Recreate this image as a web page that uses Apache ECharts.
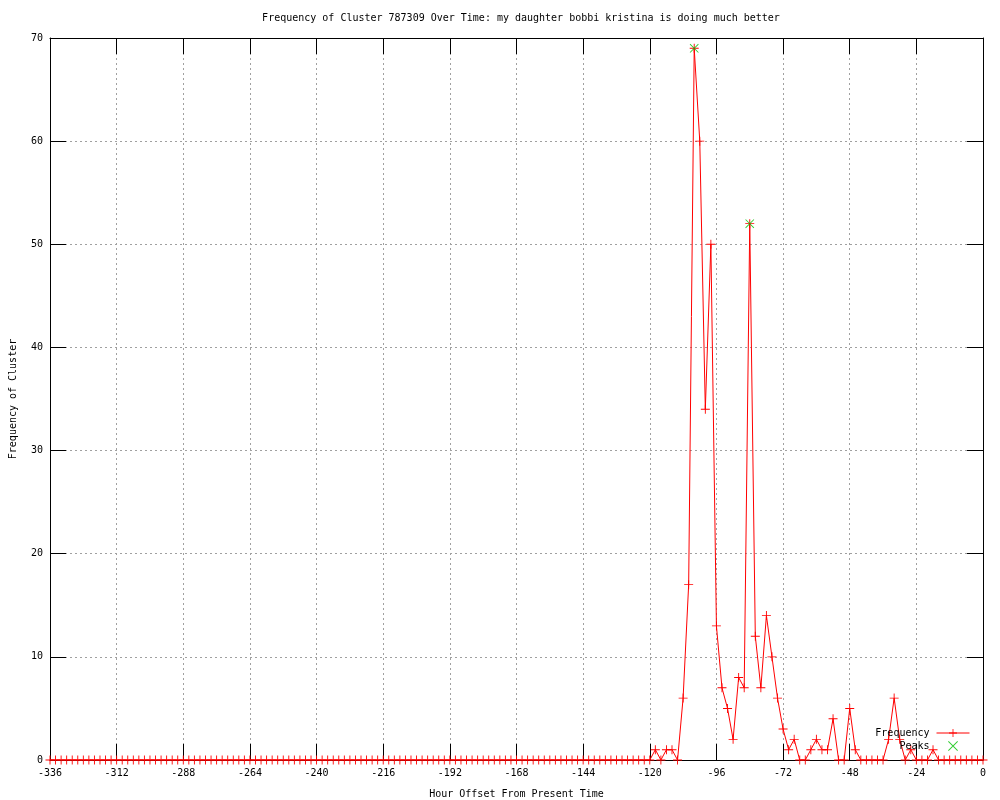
<!DOCTYPE html>
<html>
<head>
<meta charset="utf-8">
<script src="https://cdn.jsdelivr.net/npm/echarts@6/dist/echarts.min.js"></script>
<style>html,body{margin:0;padding:0;background:#fff}#c{width:1000px;height:800px}</style>
</head>
<body>
<div id="c"></div>
<script>
const titleText = 'Frequency of Cluster 787309 Over Time: my daughter bobbi kristina is doing much better';
const xName = 'Hour Offset From Present Time';
const yName = 'Frequency of Cluster';
const hourStart = -336;
const hourStep = 2;
const freqValues = [
  0,0,0,0,0,0,0,0,0,0,0,0,
  0,0,0,0,0,0,0,0,0,0,0,0,
  0,0,0,0,0,0,0,0,0,0,0,0,
  0,0,0,0,0,0,0,0,0,0,0,0,
  0,0,0,0,0,0,0,0,0,0,0,0,
  0,0,0,0,0,0,0,0,0,0,0,0,
  0,0,0,0,0,0,0,0,0,0,0,0,
  0,0,0,0,0,0,0,0,0,0,0,0,
  0,0,0,0,0,0,0,0,0,0,0,0,
  0,
  1,0,1,1,0,6,17,69,60,34,50,13,
  7,5,2,8,7,52,12,7,14,10,6,3,
  1,2,0,0,1,2,1,1,4,0,0,5,
  1,0,0,0,0,0,2,6,2,0,1,0,
  0,0,1,0,0,0,0,0,0,0,0,0
];
const peakHours = [-104, -84];
const peakValues = [69, 52];
const xTicks = {min: -336, max: 0, interval: 24};
const yTicks = {min: 0, max: 70, interval: 10};

const freqData = freqValues.map((v, i) => [hourStart + i * hourStep, v]);
const peakData = peakHours.map((h, i) => [h, peakValues[i]]);

const FONT = 'DejaVu Sans Mono';
const plus = 'path://M0,4.5h10v1h-10z M4.5,0h1v10h-1z';
const cross = 'path://M0,0.7L0.7,0L10,9.3L9.3,10Z M9.3,0L10,0.7L0.7,10L0,9.3Z';

const chart = echarts.init(document.getElementById('c'), null, {renderer: 'canvas'});
const gridLine = {show: true, lineStyle: {color: '#a0a0a0', type: [2, 3], width: 1}};
const tick = {show: true, inside: true, length: 16, lineStyle: {color: '#000', width: 1}};
chart.setOption({
  animation: false,
  backgroundColor: '#fff',
  title: {text: titleText, left: 516, top: 8, textAlign: 'center',
    textStyle: {fontFamily: FONT, fontSize: 10, fontWeight: 'normal', color: '#000'}},
  grid: {left: 50, right: 17, top: 38, bottom: 40, show: false, containLabel: false, outerBoundsMode: 'none'},
  legend: {
    orient: 'vertical', right: 30, top: 728, align: 'right', padding: 0,
    itemWidth: 33, itemHeight: 10, itemGap: 3,
    lineStyle: {width: 1},
    textStyle: {fontFamily: FONT, fontSize: 10, color: '#000', padding: [0, 2, 0, 0]},
    data: ['Frequency', 'Peaks']
  },
  xAxis: [{
    type: 'value', min: xTicks.min, max: xTicks.max, interval: xTicks.interval,
    name: xName, nameLocation: 'middle', nameGap: 29,
    nameTextStyle: {fontFamily: FONT, fontSize: 10, color: '#000'},
    axisLine: {show: true, onZero: false, lineStyle: {color: '#000', width: 1}},
    axisTick: tick,
    axisLabel: {fontFamily: FONT, fontSize: 10, color: '#000', margin: 8},
    splitLine: gridLine
  }, {
    type: 'value', position: 'top', min: xTicks.min, max: xTicks.max, interval: xTicks.interval,
    axisLine: {show: true, onZero: false, lineStyle: {color: '#000', width: 1}},
    axisTick: tick, axisLabel: {show: false}, splitLine: {show: false}
  }],
  yAxis: [{
    type: 'value', min: yTicks.min, max: yTicks.max, interval: yTicks.interval,
    name: yName, nameLocation: 'middle', nameGap: 32, nameRotate: 90,
    nameTextStyle: {fontFamily: FONT, fontSize: 10, color: '#000'},
    axisLine: {show: true, onZero: false, lineStyle: {color: '#000', width: 1}},
    axisTick: tick,
    axisLabel: {fontFamily: FONT, fontSize: 10, color: '#000', margin: 7},
    splitLine: gridLine
  }, {
    type: 'value', position: 'right', min: yTicks.min, max: yTicks.max, interval: yTicks.interval,
    axisLine: {show: true, onZero: false, lineStyle: {color: '#000', width: 1}},
    axisTick: tick, axisLabel: {show: false}, splitLine: {show: false}
  }],
  series: [{
    name: 'Frequency', type: 'line', data: freqData,
    symbol: plus, symbolSize: 9, showAllSymbol: true,
    lineStyle: {color: '#ff0000', width: 1},
    itemStyle: {color: '#ff0000'},
    z: 3
  }, {
    name: 'Peaks', type: 'scatter', data: peakData,
    symbol: cross, symbolSize: 9,
    itemStyle: {color: '#00c000'},
    z: 4
  }]
});
</script>
</body>
</html>
